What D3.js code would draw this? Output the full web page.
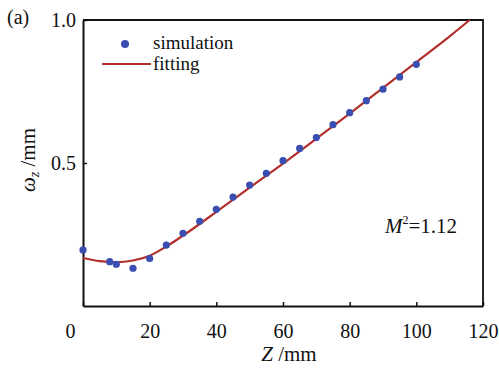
<!DOCTYPE html>
<html>
<head>
<meta charset="utf-8">
<script src="https://cdn.jsdelivr.net/npm/d3@7"></script>
<style>
  body { margin: 0; background: #fff; }
  svg { display: block; font-family: 'Liberation Serif', serif; }
</style>
</head>
<body>
<div id="chart"></div>
<script>
// simulation points (Z in mm, beam radius in mm)
const simZ = [0, 8, 10, 15, 20, 25, 30, 35, 40, 45, 50, 55, 60, 65, 70, 75, 80, 85, 90, 95, 100];
const simW = [0.196, 0.155, 0.146, 0.132, 0.166, 0.213, 0.254, 0.296, 0.338, 0.381, 0.423, 0.464,
  0.508, 0.551, 0.589, 0.634, 0.676, 0.718, 0.758, 0.801, 0.845];

// fitted curve
const fitZ = [0, 5, 10, 15, 20, 25, 30, 40, 50, 60, 70, 80, 90, 100, 110, 116];
const fitW = [0.168, 0.157, 0.153, 0.159, 0.176, 0.208, 0.246, 0.329, 0.414, 0.498, 0.585, 0.673,
  0.763, 0.853, 0.943, 1.0];

const xTicks = [0, 20, 40, 60, 80, 100, 120];
const yTicks = [0.5, 1.0];

const width = 499, height = 369;
const margin = { top: 20, right: 16, bottom: 63, left: 83 };
const w = width - margin.left - margin.right;
const h = height - margin.top - margin.bottom;
const font = 'Liberation Serif';

const svg = d3.select('#chart')
  .append('svg')
  .attr('width', width)
  .attr('height', height);

const g = svg.append('g')
  .attr('transform', `translate(${margin.left},${margin.top})`);

const x = d3.scaleLinear().domain([0, 120]).range([0, w]);
const y = d3.scaleLinear().domain([0, 1]).range([h, 0]);

// frame (top and right)
g.append('path')
  .attr('d', `M0,0H${w}V${h}`)
  .attr('fill', 'none')
  .attr('stroke', '#111')
  .attr('stroke-width', 1.8);

// x axis
const xAxis = g.append('g')
  .attr('transform', `translate(0,${h})`)
  .call(d3.axisBottom(x).tickValues(xTicks).tickSizeInner(-4).tickSizeOuter(0).tickPadding(12));
xAxis.select('.domain').attr('stroke', '#111').attr('stroke-width', 2);
xAxis.selectAll('.tick line').attr('stroke', '#111').attr('stroke-width', 1.5);
xAxis.selectAll('.tick text')
  .attr('font-size', '20px')
  .attr('font-family', font)
  .attr('fill', '#111')
  .attr('dy', '1.0em');
xAxis.selectAll('.tick')
  .filter(d => d === 0)
  .select('text')
  .attr('dx', -13);

// y axis
const yAxis = g.append('g')
  .call(d3.axisLeft(y).tickValues(yTicks).tickFormat(d3.format('.1f')).tickSizeInner(-4).tickSizeOuter(0).tickPadding(7));
yAxis.select('.domain').attr('stroke', '#111').attr('stroke-width', 2);
yAxis.selectAll('.tick line').attr('stroke', '#111').attr('stroke-width', 1.5);
yAxis.selectAll('.tick text')
  .attr('font-size', '20px')
  .attr('font-family', font)
  .attr('fill', '#111');

// fitted curve
const line = d3.line()
  .x(d => x(d[0]))
  .y(d => y(d[1]))
  .curve(d3.curveMonotoneX);

g.append('path')
  .datum(fitZ.map((z, i) => [z, fitW[i]]))
  .attr('d', line)
  .attr('fill', 'none')
  .attr('stroke', '#b2302c')
  .attr('stroke-width', 2.2);

// simulation dots
g.selectAll('circle.sim')
  .data(simZ.map((z, i) => [z, simW[i]]))
  .enter()
  .append('circle')
  .attr('class', 'sim')
  .attr('cx', d => x(d[0]))
  .attr('cy', d => y(d[1]))
  .attr('r', 3.6)
  .attr('fill', '#3a4db0');

// legend
const leg = svg.append('g').attr('font-size', '19px').attr('fill', '#111');
leg.append('circle').attr('cx', 125).attr('cy', 44).attr('r', 4).attr('fill', '#3a4db0');
leg.append('text').attr('x', 153).attr('y', 49).text('simulation');
leg.append('line')
  .attr('x1', 102).attr('x2', 151).attr('y1', 64).attr('y2', 64)
  .attr('stroke', '#b2302c').attr('stroke-width', 2.2);
leg.append('text').attr('x', 153).attr('y', 70).text('fitting');

// panel label
svg.append('text')
  .attr('x', 7).attr('y', 24)
  .attr('font-size', '20px')
  .attr('fill', '#111')
  .text('(a)');

// M^2 annotation
const m2 = svg.append('text')
  .attr('x', 385).attr('y', 233)
  .attr('font-size', '21px')
  .attr('fill', '#111');
m2.append('tspan').attr('font-style', 'italic').text('M');
m2.append('tspan').attr('font-size', '12px').attr('dy', -9).text('2');
m2.append('tspan').attr('dy', 9).text('=1.12');

// x axis title
const xt = svg.append('text')
  .attr('x', margin.left + w / 2 + 6).attr('y', 361)
  .attr('text-anchor', 'middle')
  .attr('font-size', '21px')
  .attr('fill', '#111');
xt.append('tspan').attr('font-style', 'italic').text('Z');
xt.append('tspan').text(' /mm');

// y axis title
const yt = svg.append('text')
  .attr('transform', `translate(35,${margin.top + 140}) rotate(-90)`)
  .attr('text-anchor', 'middle')
  .attr('font-size', '21px')
  .attr('fill', '#111');
yt.append('tspan').attr('font-style', 'italic').text('ω');
yt.append('tspan').attr('font-style', 'italic').attr('font-size', '14px').attr('dy', 4).text('z');
yt.append('tspan').attr('dy', -4).text(' /mm');
</script>
</body>
</html>
